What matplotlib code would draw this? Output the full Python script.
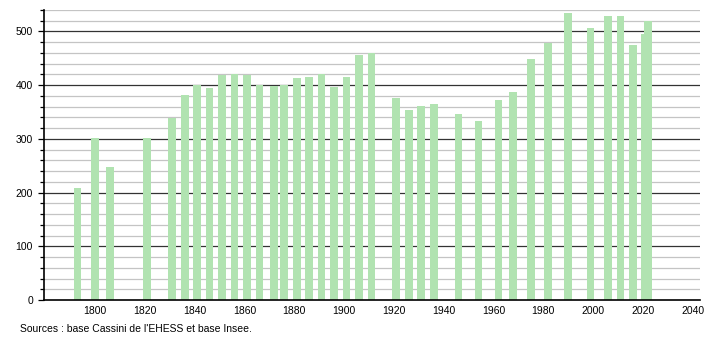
import numpy as np
from matplotlib import pyplot as plt

plt.rcParams['font.family'] = ['Liberation Sans', 'DejaVu Sans']

years = [1793, 1800, 1806, 1821, 1831, 1836, 1841, 1846, 1851, 1856,
         1861, 1866, 1872, 1876, 1881, 1886, 1891, 1896, 1901, 1906,
         1911, 1921, 1926, 1931, 1936, 1946, 1954, 1962, 1968, 1975,
         1982, 1990, 1999, 2006, 2011, 2016, 2021, 2022]
population = [209, 301, 247, 302, 339, 382, 400, 394, 419, 420,
              419, 400, 398, 400, 414, 415, 420, 397, 416, 456,
              460, 377, 353, 362, 365, 347, 334, 372, 387, 448,
              479, 534, 506, 529, 529, 474, 495, 520]

xticks = list(range(1800, 2041, 20))

fig = plt.figure(figsize=(7.1, 3.4), dpi=100)
ax = fig.add_axes([0.062, 0.1176, 0.924, 0.853])

# grid: light every 20, dark every 100
for y in range(20, 541, 20):
    if y % 100 == 0:
        ax.axhline(y, color='#333333', lw=0.9, zorder=1)
    else:
        ax.axhline(y, color='#c4c4c4', lw=0.9, zorder=1)

ax.bar(years, population, width=3.1, color='#b1e3b1', zorder=2)

ax.set_xlim(1779.5, 2043)
ax.set_ylim(0, 540)
ax.set_xticks(xticks)
ax.set_yticks(range(0, 501, 100))
ax.set_yticks(range(0, 541, 20), minor=True)
ax.tick_params(axis='x', length=0, labelsize=7.5, pad=4)
ax.tick_params(axis='y', which='major', length=4, width=0.9, labelsize=7.5, pad=4)
ax.tick_params(axis='y', which='minor', length=3, width=0.9)

ax.spines['top'].set_visible(False)
ax.spines['right'].set_visible(False)
ax.spines['left'].set_linewidth(1.2)
ax.spines['bottom'].set_linewidth(1.2)

fig.text(0.028, 0.025, "Sources : base Cassini de l'EHESS et base Insee.", fontsize=7.5)

plt.savefig('out.png', dpi=100)
